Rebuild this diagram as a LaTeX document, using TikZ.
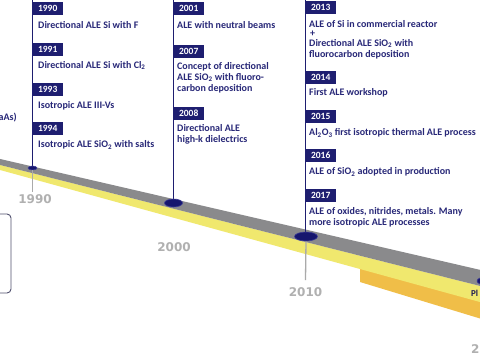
\documentclass[tikz,border=0pt]{standalone}
\usepackage{fontspec}
\setmainfont{Carlito}
\newfontfamily\yearfont{DejaVu Sans}
\usetikzlibrary{shapes.geometric}
\definecolor{boxnavy}{RGB}{30,30,112}
\definecolor{txtnavy}{RGB}{40,40,120}
\definecolor{dotnavy}{RGB}{22,22,110}
\definecolor{dotedge}{RGB}{60,60,150}
\definecolor{grayc}{RGB}{138,138,140}
\definecolor{yellowc}{RGB}{240,232,110}
\definecolor{goldc}{RGB}{240,190,72}
\definecolor{yeargray}{RGB}{176,176,176}
\definecolor{tickgray}{RGB}{170,170,170}
\definecolor{boxline}{RGB}{80,80,110}
\begin{document}
\begin{tikzpicture}[x=1pt,y=-1pt,
  yearbox/.style={fill=boxnavy, text=white, font=\bfseries\fontsize{9.5}{10}\selectfont, minimum width=30pt, minimum height=13pt, inner sep=0pt, anchor=north west},
  entry/.style={text=txtnavy, font=\bfseries\fontsize{10}{11}\selectfont, anchor=west, align=left, inner sep=0pt},
  pole/.style={draw=boxnavy, line width=1.2pt},
  tickline/.style={draw=tickgray, line width=1.3pt},
  yearlabel/.style={text=yeargray, font=\yearfont\bfseries\fontsize{12}{12}\selectfont, inner sep=0pt},
  dotnode/.style={ellipse, fill=dotnavy, draw=dotedge, line width=0.6pt, inner sep=0pt}
]
\useasboundingbox (0,0) rectangle (480,360);
\clip (0,0) rectangle (480,360);
\fill[white] (0,0) rectangle (480,360);
% timeline band
\fill[goldc] (360,262) -- (360,282) -- (485,320) -- (485,290) -- cycle;
\fill[yellowc] (-5,163.7) -- (485,287.2) -- (485,303.4) -- (-5,168.6) -- cycle;
\fill[grayc] (-5,157.8) -- (485,271) -- (485,287.2) -- (-5,163.7) -- cycle;
% left rounded box
\draw[draw=boxline, line width=0.9pt, rounded corners=4pt] (-10,214) rectangle (11,293);
% poles
\coordinate (p1990) at (32.5,0);
\coordinate (p2000) at (173.5,0);
\coordinate (p2010) at (305.5,0);
\coordinate (t1990) at (32.5,192);
\coordinate (t2010) at (305.5,280);
\draw[pole] (p1990) -- (32.5,168);
\draw[pole] (p2000) -- (173.5,203);
\draw[pole] (p2010) -- (305.5,236.5);
% dots
\node[dotnode, minimum width=9pt, minimum height=4pt] (d1990) at (32.5,168) {};
\node[dotnode, minimum width=18pt, minimum height=8pt] (d2000) at (173.5,203) {};
\node[dotnode, minimum width=23pt, minimum height=9pt] (d2010) at (306,236.5) {};
\node[dotnode, minimum width=22pt, minimum height=9pt] (d2020) at (488,281) {};
\draw[tickline] (d1990.south) -- (t1990);
\draw[tickline] (d2010.south) -- (t2010);
% year labels
\node[yearlabel] (y1990) at (35,199.5) {1990};
\node[yearlabel] (y2000) at (174,247) {2000};
\node[yearlabel] (y2010) at (305.5,292) {2010};
\node[yearlabel, anchor=west] (y2020) at (471,349) {2};
% column 1
\node[entry, anchor=east] (eleft) at (17,118) {aAs)};
\node[yearbox] (b1990) at (32.5,2) {1990};
\node[entry] (e1990) at (38,25) {Directional ALE Si with F};
\node[yearbox] (b1991) at (32.5,43) {1991};
\node[entry] (e1991) at (38,65.5) {Directional ALE Si with Cl\textsubscript{2}};
\node[yearbox] (b1993) at (32.5,83) {1993};
\node[entry] (e1993) at (38,106) {Isotropic ALE III-Vs};
\node[yearbox] (b1994) at (32.5,122) {1994};
\node[entry] (e1994) at (38,145) {Isotropic ALE SiO\textsubscript{2} with salts};
% column 2
\node[yearbox] (b2001) at (173.5,2) {2001};
\node[entry] (e2001) at (177,25) {ALE with neutral beams};
\node[yearbox] (b2007) at (173.5,44.5) {2007};
\node[entry] (e2007) at (177,77.5) {Concept of directional\\ALE SiO\textsubscript{2} with fluoro-\\carbon deposition};
\node[yearbox] (b2008) at (173.5,107) {2008};
\node[entry] (e2008) at (177,134) {Directional ALE\\high-k dielectrics};
% column 3
\node[yearbox] (b2013) at (305.5,1) {2013};
\node[entry] (e2013a) at (309,24) {ALE of Si in commercial reactor};
\node[entry] (eplus) at (310,33.5) {+};
\node[entry] (e2013b) at (309,49) {Directional ALE SiO\textsubscript{2} with\\fluorocarbon deposition};
\node[yearbox] (b2014) at (305.5,71) {2014};
\node[entry] (e2014) at (309,93) {First ALE workshop};
\node[yearbox] (b2015) at (305.5,110) {2015};
\node[entry] (e2015) at (309,133) {Al\textsubscript{2}O\textsubscript{3} first isotropic thermal ALE process};
\node[yearbox] (b2016) at (305.5,149) {2016};
\node[entry] (e2016) at (309,172) {ALE of SiO\textsubscript{2} adopted in production};
\node[yearbox] (b2017) at (305.5,189) {2017};
\node[entry] (e2017) at (309,217) {ALE of oxides, nitrides, metals. Many\\more isotropic ALE processes};
\node[entry, font=\bfseries\fontsize{9}{10}\selectfont, text=txtnavy!70!black] (epl) at (471,293) {Pl};
\end{tikzpicture}
\end{document}
